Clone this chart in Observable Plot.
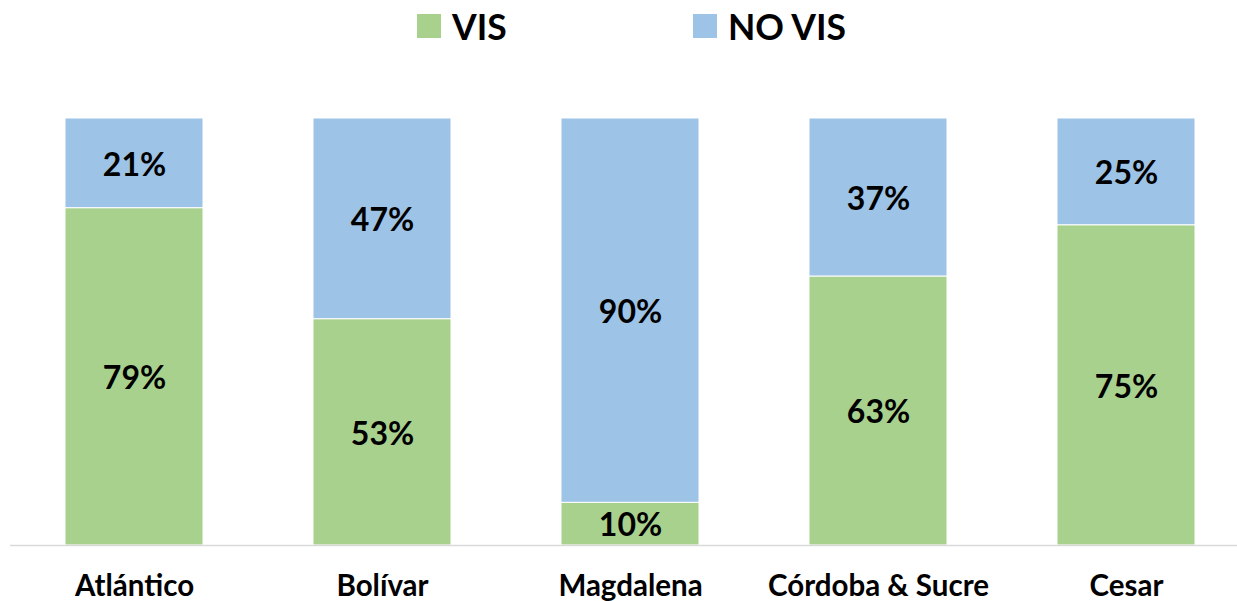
<!DOCTYPE html>
<html>
<head>
<meta charset="utf-8">
<script src="https://cdn.jsdelivr.net/npm/d3@7"></script>
<script src="https://cdn.jsdelivr.net/npm/@observablehq/plot@0.6"></script>
<style>
  html, body { margin: 0; padding: 0; background: #fff; }
  body { width: 1237px; height: 601px; overflow: hidden; font-family: Lato, "Open Sans", sans-serif; }
  #legend { position: relative; height: 60px; }
  .item { position: absolute; top: 0; height: 52px; display: flex; align-items: center; font-weight: bold; font-size: 35.5px; color: #000; }
  .sw { width: 24px; height: 24px; margin-right: 11px; }
</style>
</head>
<body>
<div id="legend"></div>
<div id="chart"></div>
<script>
const categories = ["Atlántico", "Bolívar", "Magdalena", "Córdoba & Sucre", "Cesar"];
const vis = [79, 53, 10, 63, 75];
const noVis = [21, 47, 90, 37, 25];
const seriesNames = ["VIS", "NO VIS"];
const seriesColors = ["#A9D18E", "#9DC3E6"];

const data = [];
categories.forEach((c, i) => {
  data.push({cat: c, series: "VIS", value: vis[i]});
  data.push({cat: c, series: "NO VIS", value: noVis[i]});
});

const legend = document.getElementById("legend");
const legendLeft = [417, 693];
seriesNames.forEach((s, i) => {
  const it = document.createElement("div");
  it.className = "item";
  it.style.left = legendLeft[i] + "px";
  it.innerHTML = `<span class="sw" style="background:${seriesColors[i]}"></span><span>${s}</span>`;
  legend.appendChild(it);
});

const chart = Plot.plot({
  width: 1237,
  height: 541,
  marginTop: 58,
  marginBottom: 56,
  marginLeft: 10,
  marginRight: 0,
  style: {fontFamily: "Lato, 'Open Sans', sans-serif", background: "#fff"},
  x: {domain: categories, range: [10, 1251], paddingInner: 0.4435, paddingOuter: 0.22, label: null},
  y: {domain: [0, 100], axis: null},
  color: {domain: seriesNames, range: seriesColors},
  marks: [
    Plot.barY(data, Plot.stackY({order: seriesNames, x: "cat", y: "value", z: "series", fill: "series", stroke: "white", strokeWidth: 1})),
    Plot.text(data, Plot.stackY({order: seriesNames, x: "cat", y: "value", z: "series", text: d => d.value + "%", fontSize: 32, fontWeight: "bold", fill: "#000", dy: 2})),
    Plot.ruleY([0], {stroke: "#d9d9d9", strokeWidth: 1.5}),
    Plot.axisX({tickSize: 0, tickPadding: 30, fontSize: 29.5, fontWeight: "bold", fill: "#000", label: null})
  ]
});
document.getElementById("chart").appendChild(chart);
</script>
</body>
</html>
